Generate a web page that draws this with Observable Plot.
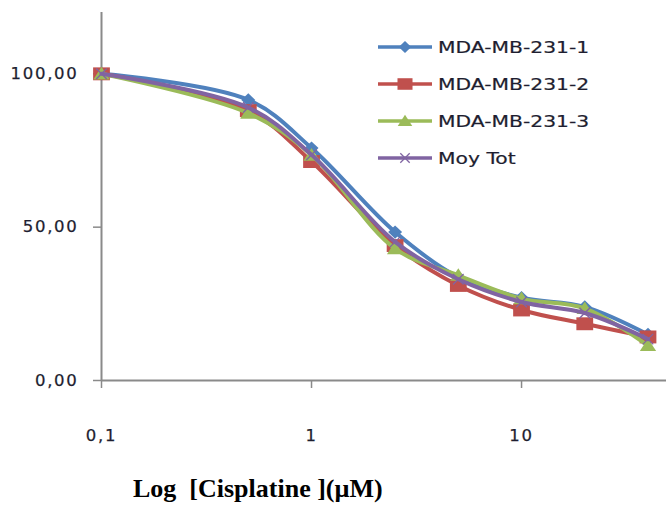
<!DOCTYPE html>
<html><head><meta charset="utf-8">
<script src="https://cdn.jsdelivr.net/npm/d3@7"></script>
<script src="https://cdn.jsdelivr.net/npm/@observablehq/plot@0.6"></script>
<style>
body{margin:0;background:#fff;}
#wrap{position:relative;width:666px;height:509px;overflow:hidden;background:#fff;}
#chart{position:absolute;left:0;top:0;}
#chart svg text{stroke:#1e1e30;stroke-width:0.25px;}
#legend{position:absolute;left:370px;top:30px;}
#title{position:absolute;left:133px;top:474px;font:bold 26px "Liberation Serif","Times New Roman",serif;white-space:pre;color:#000;line-height:30px;}
</style></head><body>
<div id="wrap"><div id="chart"></div><div id="legend"></div><div id="title">Log  [Cisplatine ](µM)</div></div>
<script>
// ---- data ----
const concentrations = [0.1, 0.5, 1, 2.5, 5, 10, 20, 40];
const mda1 = [100, 91.5, 75.8, 48.4, 33.7, 27.0, 24.0, 15.0];
const mda2 = [100, 88.0, 71.4, 44.0, 31.0, 23.0, 18.5, 14.2];
const mda3 = [100, 87.2, 73.5, 43.0, 34.3, 26.7, 23.5, 11.4];
const moyTot = [100, 89.0, 73.6, 45.2, 33.0, 25.6, 22.0, 13.5];
const seriesNames = ["MDA-MB-231-1", "MDA-MB-231-2", "MDA-MB-231-3", "Moy Tot"];
const xTicks = [0.1, 1, 10];
const xTickLabels = ["0,1", "1", "10"];
const yTicks = [0, 50, 100];
const yTickLabels = ["0,00", "50,00", "100,00"];

// ---- styling ----
const seriesValues = [mda1, mda2, mda3, moyTot];
const colors = ["#4F81BD", "#C0504D", "#9BBB59", "#8064A2"];
const radii = [7, 7.6, 7.4, 7];
const axisColor = "#8a8a8a";
const textColor = "#1e1e30";
const sx = 1.3; // horizontal stretch of the markers, as in the reference

const wideDiamond = {draw(ctx, size) { const r = Math.sqrt(size / Math.PI);
  ctx.moveTo(0, -r * 0.95); ctx.lineTo(r * 1.0, 0); ctx.lineTo(0, r * 0.95); ctx.lineTo(-r * 1.0, 0); ctx.closePath(); }};
const wideSquare = {draw(ctx, size) { const r = Math.sqrt(size / Math.PI); const h = r * 0.85, w = h * sx;
  ctx.moveTo(-w, -h); ctx.lineTo(w, -h); ctx.lineTo(w, h); ctx.lineTo(-w, h); ctx.closePath(); }};
const wideTriangle = {draw(ctx, size) { const r = Math.sqrt(size / Math.PI);
  ctx.moveTo(0, -r * 0.95); ctx.lineTo(r * 1.1, r * 0.75); ctx.lineTo(-r * 1.1, r * 0.75); ctx.closePath(); }};
const cross = {draw(ctx, size) { const r = Math.sqrt(size / Math.PI) * 0.75;
  ctx.moveTo(-r, -r); ctx.lineTo(r, r); ctx.moveTo(r, -r); ctx.lineTo(-r, r); }};
const symbols = [wideDiamond, wideSquare, wideTriangle, cross];
const filled = [true, true, true, false];

const rows = seriesNames.map((name, i) =>
  concentrations.map((c, j) => ({name, c, v: seriesValues[i][j]})));

const marks = [
  Plot.ruleY([yTicks[0]], {stroke: axisColor, strokeWidth: 2}),
  Plot.ruleX([xTicks[0]], {stroke: axisColor, strokeWidth: 2}),
  Plot.axisX({ticks: xTicks, tickFormat: d => xTickLabels[xTicks.indexOf(d)], tickSize: 8, tickPadding: 41, stroke: axisColor, fill: textColor, strokeWidth: 1.5, label: null}),
  Plot.axisY({ticks: yTicks, tickFormat: d => yTickLabels[yTicks.indexOf(d)], tickSize: 8, tickPadding: 15, stroke: axisColor, fill: textColor, strokeWidth: 1.5, label: null})
];
rows.forEach((r, i) => {
  marks.push(Plot.line(r, {x: "c", y: "v", stroke: "name", strokeWidth: 4, curve: "catmull-rom"}));
  if (!filled[i])
    marks.push(Plot.dot(r, {x: "c", y: "v", symbol: "name", stroke: "name", strokeWidth: 1.3, r: radii[i]}));
  else
    marks.push(Plot.dot(r, {x: "c", y: "v", symbol: "name", fill: "name", stroke: "none", r: radii[i]}));
});

const chart = Plot.plot({
  width: 666, height: 460,
  marginLeft: 101, marginRight: 0, marginTop: 12, marginBottom: 80,
  x: {type: "log", domain: [0.1, 49], axis: null},
  y: {domain: [0, 120], axis: null},
  color: {domain: seriesNames, range: colors},
  symbol: {domain: seriesNames, range: symbols},
  style: {fontFamily: "'DejaVu Sans', Verdana, sans-serif", fontSize: "16.5px", letterSpacing: "1.7px", background: "#fff"},
  marks
});
document.getElementById("chart").append(chart);

// ---- legend ----
const lg = d3.select("#legend").append("svg").attr("width", 260).attr("height", 150);
seriesNames.forEach((name, i) => {
  const y = 17 + i * 37;
  const g = lg.append("g");
  g.append("line").attr("x1", 8).attr("x2", 62).attr("y1", y).attr("y2", y)
    .attr("stroke", colors[i]).attr("stroke-width", 3.5);
  const p = d3.symbol(symbols[i], Math.PI * radii[i] * radii[i] * 0.8)();
  const s = g.append("path").attr("d", p).attr("transform", `translate(35,${y})`);
  if (!filled[i]) s.attr("fill", "none").attr("stroke", colors[i]).attr("stroke-width", 1.3);
  else s.attr("fill", colors[i]);
  g.append("text").text(name)
    .attr("transform", `translate(68,${y}) scale(1.27,1)`)
    .attr("dy", "0.36em")
    .attr("fill", textColor)
    .attr("stroke", textColor).attr("stroke-width", 0.2)
    .attr("font-family", "'DejaVu Sans', Verdana, sans-serif")
    .attr("font-size", 16);
});
</script>
</body></html>
